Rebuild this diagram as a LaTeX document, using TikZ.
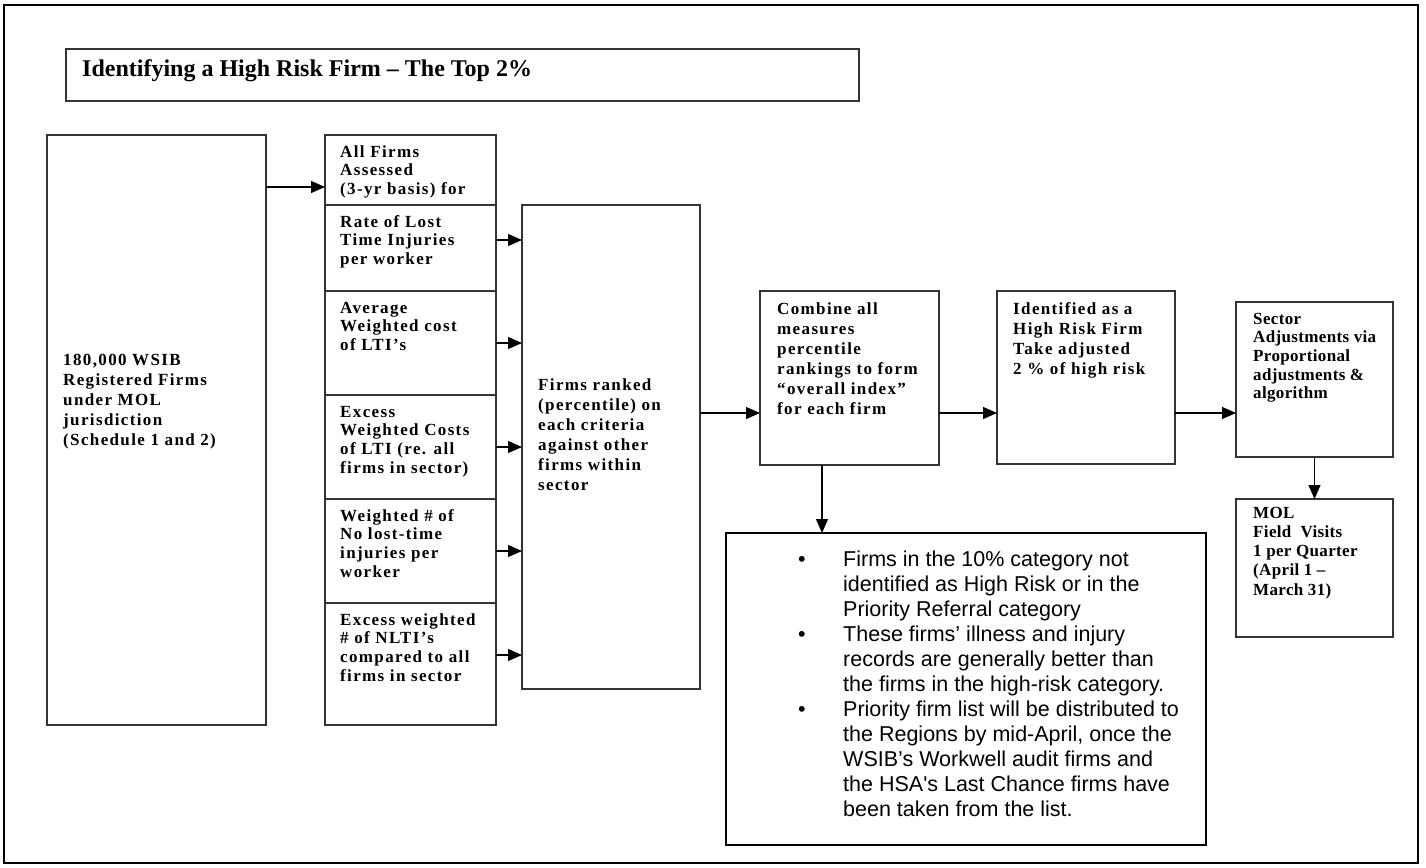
\documentclass[tikz,border=0pt]{standalone}
\usepackage{fontspec}
\setmainfont{Liberation Serif}
\newfontfamily\boxfont[LetterSpace=8]{Liberation Serif}
\newfontfamily\tightfont[LetterSpace=2]{Liberation Serif}
\newfontfamily\notefont{Liberation Sans}
\usetikzlibrary{positioning, arrows.meta, calc}
% lines of a box text, with the first baseline as the node's base
\newcommand{\lines}[1]{\begin{tabular}[t]{@{}l@{}}#1\end{tabular}}

\begin{document}
\begin{tikzpicture}[x=1pt, y=-1pt,
    box/.style={draw=black!80, line width=1.3pt, inner sep=0pt, outer sep=0pt, anchor=north west},
    cell/.style={box, minimum width=171pt},
    txt/.style={anchor=base west, inner sep=0pt, font=\boxfont\bfseries\fontsize{17}{18.7}\selectfont},
    arr/.style={-{Triangle[length=14pt, width=12pt]}, line width=1.2pt}]
  \useasboundingbox (0,0) rectangle (1426,867);
  \draw[line width=2pt] (4,5) rectangle (1418,863);

  % title
  \node[box, minimum width=793pt, minimum height=52pt] (title) at (66,49) {};
  \node[anchor=base west, inner sep=0pt, font=\bfseries\fontsize{24}{26}\selectfont] (titletext) at (82,77)
    {Identifying a High Risk Firm – The Top 2\%};

  % registered firms
  \node[box, minimum width=219pt, minimum height=590pt] (reg) at (47,135) {};
  \node[txt, font=\boxfont\bfseries\fontsize{17}{20}\selectfont] at ([shift={(16,230)}]reg.north west)
    {\lines{180,000 WSIB\\Registered Firms\\under MOL\\jurisdiction\\(Schedule 1 and 2)}};

  % criteria column
  \node[cell, minimum height=70pt] (cell0) at (325,135) {};
  \node[cell, minimum height=86pt, below=0pt of cell0] (cell1) {};
  \node[cell, minimum height=104pt, below=0pt of cell1] (cell2) {};
  \node[cell, minimum height=104pt, below=0pt of cell2] (cell3) {};
  \node[cell, minimum height=104pt, below=0pt of cell3] (cell4) {};
  \node[cell, minimum height=122pt, below=0pt of cell4] (cell5) {};
  \foreach \i/\t in {0/{All Firms\\Assessed\\(3-yr basis) for},
                     1/{Rate of Lost\\Time Injuries\\per worker},
                     2/{Average\\Weighted cost\\of LTI’s},
                     3/{Excess\\Weighted Costs\\of LTI (re. all\\firms in sector)},
                     4/{Weighted \# of\\No lost-time\\injuries per\\worker},
                     5/{Excess weighted\\\# of NLTI’s\\compared to all\\firms in sector}}
    \node[txt] at ([shift={(15,22)}]cell\i.north west) {\lines{\t}};

  % ranking
  \node[box, minimum width=178pt, minimum height=484pt] (ranked) at (522,205) {};
  \node[txt, font=\boxfont\bfseries\fontsize{17}{20}\selectfont] at ([shift={(16,185)}]ranked.north west)
    {\lines{Firms ranked\\(percentile) on\\each criteria\\against other\\firms within\\sector}};

  \node[box, minimum width=179pt, minimum height=174pt] (combine) at (760,291) {};
  \node[txt, font=\boxfont\bfseries\fontsize{17}{20}\selectfont] at ([shift={(17,23)}]combine.north west)
    {\lines{Combine all\\measures\\percentile\\rankings to form\\“overall index”\\for each firm}};

  \node[box, minimum width=178pt, minimum height=173pt] (ident) at (997,291) {};
  \node[txt, font=\boxfont\bfseries\fontsize{17}{20}\selectfont] at ([shift={(16,23)}]ident.north west)
    {\lines{Identified as a\\High Risk Firm\\Take adjusted\\2 \% of high risk}};

  \node[box, minimum width=157pt, minimum height=155pt] (sector) at (1236,302) {};
  \node[txt, font=\tightfont\bfseries\fontsize{17}{18.7}\selectfont] at ([shift={(17,22)}]sector.north west)
    {\lines{Sector\\Adjustments via\\Proportional\\adjustments \&\\algorithm}};

  \node[box, minimum width=157pt, minimum height=138pt] (mol) at (1236,499) {};
  \node[txt, font=\tightfont\bfseries\fontsize{17}{19.3}\selectfont] at ([shift={(17,19)}]mol.north west)
    {\lines{MOL\\Field~ Visits\\1 per Quarter\\(April 1 –\\March 31)}};

  % notes
  \node[box, draw=black, line width=1.8pt, minimum width=480pt, minimum height=312pt] (notes) at (726,533) {};
  \begin{scope}[every node/.style={anchor=base west, inner sep=0pt, font=\notefont\fontsize{21.5}{25}\selectfont}]
    \node (b1) at ([shift={(72,33)}]notes.north west) {•};
    \node (b2) at ([shift={(72,108)}]notes.north west) {•};
    \node (b3) at ([shift={(72,183)}]notes.north west) {•};
    \node (notetext) at ([shift={(117,33)}]notes.north west)
      {\lines{Firms in the 10\% category not\\identified as High Risk or in the\\Priority Referral category\\
       These firms’ illness and injury\\records are generally better than\\the firms in the high-risk category.\\
       Priority firm list will be distributed to\\the Regions by mid-April, once the\\WSIB’s Workwell audit firms and\\
       the HSA's Last Chance firms have\\been taken from the list.}};
  \end{scope}

  % connectors
  \coordinate (flow) at (0,413);
  \coordinate (drop) at (822,0);
  \draw[arr] ([yshift=-17pt]cell0.west -| reg.east) -- ([yshift=-17pt]cell0.west);
  \draw[arr] ([yshift=8pt]cell1.east) -- ([yshift=8pt]cell1.east -| ranked.west);
  \foreach \i in {2,3,4}
    \draw[arr] (cell\i.east) -- (cell\i.east -| ranked.west);
  \draw[arr] ([yshift=9pt]cell5.east) -- ([yshift=9pt]cell5.east -| ranked.west);
  \draw[arr] (ranked.east |- flow) -- (combine.west |- flow);
  \draw[arr] (combine.east |- flow) -- (ident.west |- flow);
  \draw[arr] (ident.east |- flow) -- (sector.west |- flow);
  \draw[arr] (combine.south -| drop) -- (notes.north -| drop);
  \draw[arr] (sector.south) -- (mol.north);
\end{tikzpicture}
\end{document}
